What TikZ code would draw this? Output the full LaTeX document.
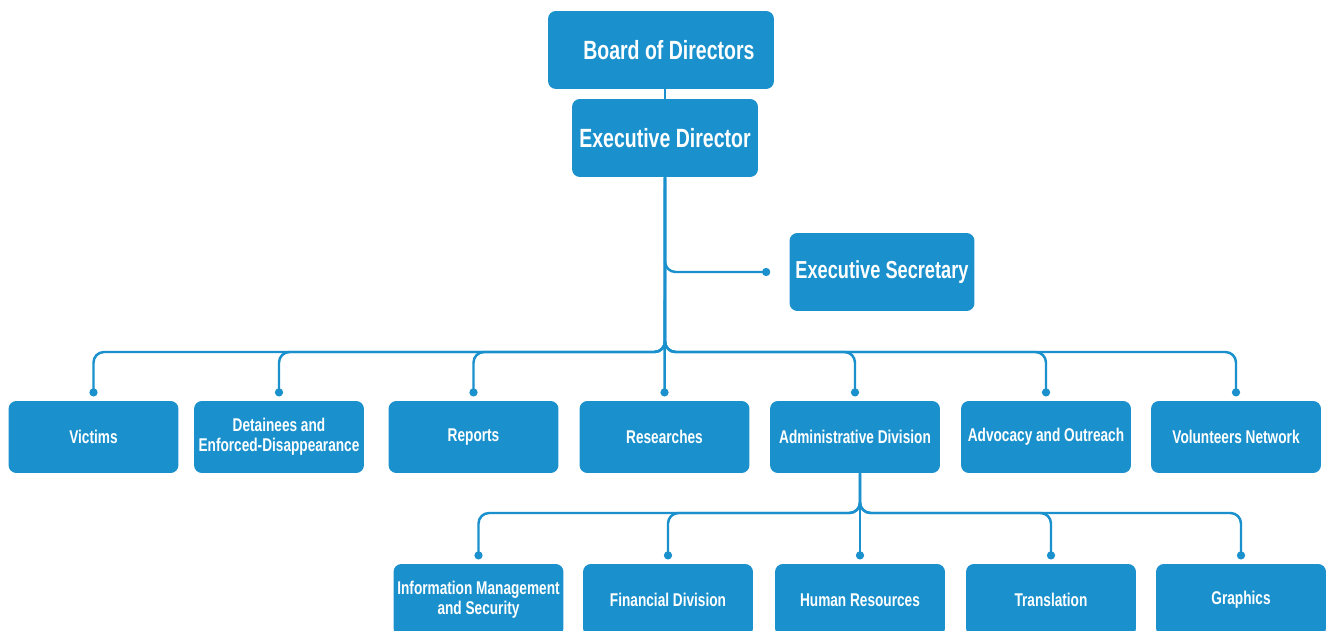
\documentclass[tikz,border=0pt]{standalone}
\usepackage{fontspec}
\setmainfont{Liberation Sans}[FakeStretch=0.74]
\usepackage{tikz}
\usetikzlibrary{arrows.meta, calc}
\definecolor{boxblue}{RGB}{26,145,205}

\begin{document}
\begin{tikzpicture}[x=0.02cm, y=-0.02cm,
    unit/.style={fill=boxblue, rounded corners=4.5pt, text=white, font=\bfseries\fontsize{10.5}{11.5}\selectfont,
      align=center, minimum width=3.4cm, minimum height=1.44cm, inner sep=1pt},
    head/.style={unit, font=\bfseries\fontsize{15}{17}\selectfont, minimum height=1.56cm},
    conn/.style={draw=boxblue, line width=1.4pt, rounded corners=6pt, -{Circle[length=4.6pt]}, shorten >=2.4pt}]

      \useasboundingbox (0,0) rectangle (1330,631);

      \node[head, minimum width=4.52cm] (board) at (661,50) {\hspace*{9pt}Board of Directors};
      \node[head, minimum width=3.72cm] (ed) at (665,138) {Executive Director};
      \node[head, minimum width=3.7cm, font=\bfseries\fontsize{14}{16}\selectfont] (es) at (882,272) {Executive Secretary};

      \node[unit] (victims) at (93.5,437) {Victims};
      \node[unit] (detainees) at (279,437) {Detainees and\\Enforced-Disappearance};
      \node[unit] (reports) at (473.5,437) {Reports};
      \node[unit] (researches) at (664.5,437) {Researches};
      \node[unit] (admin) at (855,437) {Administrative Division};
      \node[unit] (advocacy) at (1046,437) {Advocacy and Outreach};
      \node[unit] (volunteers) at (1236,437) {Volunteers Network};

      \node[unit] (info) at (478.5,600) {Information Management\\and Security};
      \node[unit] (financial) at (668,600) {Financial Division};
      \node[unit] (hr) at (860,600) {Human Resources};
      \node[unit] (translation) at (1051,600) {Translation};
      \node[unit] (graphics) at (1241,600) {Graphics};

      \coordinate (bus) at (665,352);
      \coordinate (adm) at (admin.south -| hr.north);
      \coordinate (bus2) at (860,513);

      \draw[draw=boxblue, line width=1.4pt] (board.south -| ed.north) -- (ed.north);
      \draw[conn, shorten >=10.8pt] (ed.south) |- (es.west);
      \draw[conn] (ed.south) -- (researches.north);
      \foreach \n in {victims, detainees, reports, admin, advocacy, volunteers}
        \draw[conn] (ed.south) -- (bus) -| (\n.north);

      \draw[conn] (adm) -- (hr.north);
      \foreach \n in {info, financial, translation, graphics}
        \draw[conn] (adm) -- (bus2) -| (\n.north);

\end{tikzpicture}
\end{document}
